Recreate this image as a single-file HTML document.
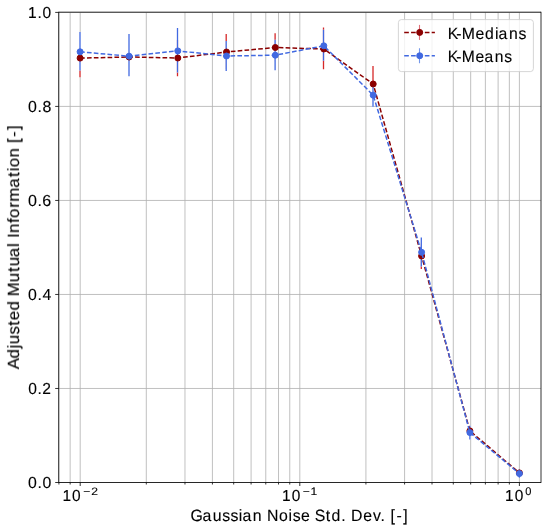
<!DOCTYPE html><html><head><meta charset="utf-8"><style>html,body{margin:0;padding:0;background:#fff;width:550px;height:528px;overflow:hidden}svg{display:block}text{will-change:transform;text-rendering:geometricPrecision;stroke:#000;stroke-width:0.12px}</style></head><body>
<svg width="550" height="528" viewBox="0 0 550 528" style="font-family:'Liberation Sans',sans-serif">
<rect width="550" height="528" fill="#fff"/>
<path d="M58.92 12.4V482.5M70.15 12.4V482.5M80.20 12.4V482.5M146.31 12.4V482.5M184.98 12.4V482.5M212.41 12.4V482.5M233.69 12.4V482.5M251.08 12.4V482.5M265.78 12.4V482.5M278.52 12.4V482.5M289.75 12.4V482.5M299.80 12.4V482.5M365.91 12.4V482.5M404.58 12.4V482.5M432.01 12.4V482.5M453.29 12.4V482.5M470.68 12.4V482.5M485.38 12.4V482.5M498.12 12.4V482.5M509.35 12.4V482.5M519.40 12.4V482.5M58.7 482.50H541.0M58.7 388.48H541.0M58.7 294.46H541.0M58.7 200.44H541.0M58.7 106.42H541.0M58.7 12.40H541.0" stroke="#b0b0b0" stroke-width="0.8" fill="none"/>
<clipPath id="ax"><rect x="58.7" y="12.4" width="482.3" height="470.1"/></clipPath>
<g clip-path="url(#ax)">
<path d="M80.0 38.60V77.30M129.0 43.00V71.00M177.5 40.00V76.30M226.2 34.00V69.00M275.1 33.20V61.50M323.5 27.40V69.20M373.0 66.10V101.50M421.3 243.50V268.90M469.9 427.00V435.00M519.4 471.00V475.00" stroke="#fff" stroke-width="2" fill="none"/><path d="M80.0 38.60V77.30M129.0 43.00V71.00M177.5 40.00V76.30M226.2 34.00V69.00M275.1 33.20V61.50M323.5 27.40V69.20M373.0 66.10V101.50M421.3 243.50V268.90M469.9 427.00V435.00M519.4 471.00V475.00" stroke="#d62728" stroke-width="1.3" fill="none"/>
<path d="M80.0 32.00V70.50M129.0 33.90V76.30M177.5 28.00V72.60M226.2 41.00V71.00M275.1 39.70V70.30M323.5 29.80V60.80M373.0 83.50V106.90M421.3 237.60V266.60M469.9 425.80V439.60M519.4 469.50V477.70" stroke="#fff" stroke-width="2" fill="none"/><path d="M80.0 32.00V70.50M129.0 33.90V76.30M177.5 28.00V72.60M226.2 41.00V71.00M275.1 39.70V70.30M323.5 29.80V60.80M373.0 83.50V106.90M421.3 237.60V266.60M469.9 425.80V439.60M519.4 469.50V477.70" stroke="#4169e1" stroke-width="1.3" fill="none"/>
<path d="M80.10 58.10 L129.10 57.00 L177.80 58.00 L226.50 52.00 L275.30 47.50 L323.80 49.00 L373.20 84.00 L421.60 256.00" stroke="#8b0000" stroke-width="1.5" stroke-dasharray="4.65 2.22" fill="none"/><path d="M421.60 256.00 L469.90 430.90 L519.40 472.90" stroke="#8b0000" stroke-width="1.5" stroke-dasharray="4.65 2.22" stroke-dashoffset="483.19" fill="none"/><circle cx="80.10" cy="58.10" r="3.0" fill="#8b0000" stroke="#8b0000" stroke-width="1.0"/><circle cx="129.10" cy="57.00" r="3.0" fill="#8b0000" stroke="#8b0000" stroke-width="1.0"/><circle cx="177.80" cy="58.00" r="3.0" fill="#8b0000" stroke="#8b0000" stroke-width="1.0"/><circle cx="226.50" cy="52.00" r="3.0" fill="#8b0000" stroke="#8b0000" stroke-width="1.0"/><circle cx="275.30" cy="47.50" r="3.0" fill="#8b0000" stroke="#8b0000" stroke-width="1.0"/><circle cx="323.80" cy="49.00" r="3.0" fill="#8b0000" stroke="#8b0000" stroke-width="1.0"/><circle cx="373.20" cy="84.00" r="3.0" fill="#8b0000" stroke="#8b0000" stroke-width="1.0"/><circle cx="421.60" cy="256.00" r="3.0" fill="#8b0000" stroke="#8b0000" stroke-width="1.0"/><circle cx="469.90" cy="430.90" r="3.0" fill="#8b0000" stroke="#8b0000" stroke-width="1.0"/><circle cx="519.40" cy="472.90" r="3.0" fill="#8b0000" stroke="#8b0000" stroke-width="1.0"/>
<path d="M80.10 51.80 L129.10 56.20 L177.80 50.90 L226.50 56.00 L275.30 55.20 L323.80 45.80 L373.20 95.20 L421.60 252.30 L469.90 432.60 L519.40 473.60" stroke="#4169e1" stroke-width="1.5" stroke-dasharray="4.65 2.22" fill="none"/><circle cx="80.10" cy="51.80" r="3.0" fill="#4169e1" stroke="#4169e1" stroke-width="1.0"/><circle cx="129.10" cy="56.20" r="3.0" fill="#4169e1" stroke="#4169e1" stroke-width="1.0"/><circle cx="177.80" cy="50.90" r="3.0" fill="#4169e1" stroke="#4169e1" stroke-width="1.0"/><circle cx="226.50" cy="56.00" r="3.0" fill="#4169e1" stroke="#4169e1" stroke-width="1.0"/><circle cx="275.30" cy="55.20" r="3.0" fill="#4169e1" stroke="#4169e1" stroke-width="1.0"/><circle cx="323.80" cy="45.80" r="3.0" fill="#4169e1" stroke="#4169e1" stroke-width="1.0"/><circle cx="373.20" cy="95.20" r="3.0" fill="#4169e1" stroke="#4169e1" stroke-width="1.0"/><circle cx="421.60" cy="252.30" r="3.0" fill="#4169e1" stroke="#4169e1" stroke-width="1.0"/><circle cx="469.90" cy="432.60" r="3.0" fill="#4169e1" stroke="#4169e1" stroke-width="1.0"/><circle cx="519.40" cy="473.60" r="3.0" fill="#4169e1" stroke="#4169e1" stroke-width="1.0"/>
</g>
<path d="M58.7 12.2H541.0M58.7 482.5H541.0M58.7 11.799999999999999V482.9M541.0 11.799999999999999V482.9" fill="none" stroke="#000" stroke-width="0.8"/>
<path d="M58.92 482.5v2.0M70.15 482.5v2.0M80.20 482.5v3.5M146.31 482.5v2.0M184.98 482.5v2.0M212.41 482.5v2.0M233.69 482.5v2.0M251.08 482.5v2.0M265.78 482.5v2.0M278.52 482.5v2.0M289.75 482.5v2.0M299.80 482.5v3.5M365.91 482.5v2.0M404.58 482.5v2.0M432.01 482.5v2.0M453.29 482.5v2.0M470.68 482.5v2.0M485.38 482.5v2.0M498.12 482.5v2.0M509.35 482.5v2.0M519.40 482.5v3.5M58.7 482.50h-3.5M58.7 388.48h-3.5M58.7 294.46h-3.5M58.7 200.44h-3.5M58.7 106.42h-3.5M58.7 12.40h-3.5" stroke="#000" stroke-width="0.8" fill="none"/>
<text transform="translate(0,488) scale(1.0567,1.0629)" x="26.60 35.45 40.14" y="0" font-size="15.0">0.0</text>
<text transform="translate(0,394) scale(1.0399,1.0629)" x="27.10 36.06 40.67" y="0" font-size="15.0">0.2</text>
<text transform="translate(0,300) scale(1.0567,1.0613)" x="26.60 35.45 40.14" y="0" font-size="15.0">0.4</text>
<text transform="translate(0,206) scale(1.0731,1.0629)" x="26.13 34.88 39.46" y="0" font-size="15.0">0.6</text>
<text transform="translate(0,112) scale(1.0618,1.0629)" x="26.45 35.27 39.93" y="0" font-size="15.0">0.8</text>
<text transform="translate(0,18) scale(1.0365,1.0613)" x="27.12 36.19 41.01" y="0" font-size="15.0">1.0</text>
<text transform="translate(0,501) scale(1.0317,1.0613)" x="60.60 69.92" y="0" font-size="15.0">10</text>
<text transform="translate(0,495.0) scale(1.1566,1.0288)" x="72.09 78.81" y="0" font-size="10.5">−2</text>
<text transform="translate(0,501) scale(1.0317,1.0613)" x="273.45 282.78" y="0" font-size="15.0">10</text>
<text transform="translate(0,495.0) scale(1.1560,1.0264)" x="261.80 268.58" y="0" font-size="10.5">−1</text>
<text transform="translate(0,501) scale(1.0317,1.0613)" x="489.56 498.88" y="0" font-size="15.0">10</text>
<text transform="translate(0,495.0) scale(1.0541,1.0629)" x="498.25" y="0" font-size="10.5">0</text>
<text transform="translate(0,521) scale(1.0183,1.0501)" x="187.14 198.90 208.95 218.34 226.30 234.46 238.09 248.21 257.34 262.29 273.97 283.36 287.40 295.56 304.55 309.15 319.90 325.51 335.04 339.64 344.79 356.65 366.27 373.75 378.35 383.44 389.33 396.07" y="0" font-size="15.55">Gaussian Noise Std. Dev. [-]</text>
<g transform="translate(18.7,247.7) rotate(-90)"><text transform="translate(0,0) scale(1.0776,1.0526)" x="-112.77 -102.73 -93.55 -89.51 -80.61 -72.44 -67.26 -58.36 -49.37 -45.03 -32.11 -22.56 -17.31 -8.84 0.74 4.47 9.03 13.59 23.02 27.63 37.01 42.64 55.65 65.58 70.89 74.71 83.72 92.59 97.26 102.82 109.24" y="0" font-size="15.55">Adjusted Mutual Information [-]</text></g>
<rect x="398.4" y="19.6" width="135.00" height="52.00" rx="3" fill="rgba(255,255,255,0.8)" stroke="rgba(204,204,204,0.8)" stroke-width="1"/>
<path d="M419.5 24.90V39.90" stroke="#e0707a" stroke-width="1.1" fill="none"/>
<path d="M404.2 32.4H434.9" stroke="#8b0000" stroke-width="1.5" stroke-dasharray="4.65 2.22" fill="none"/>
<circle cx="419.7" cy="32.4" r="3.0" fill="#8b0000" stroke="#8b0000" stroke-width="1.0"/>
<text transform="translate(0,39) scale(1.0165,1.0475)" x="440.39 448.79 454.27 467.75 477.18 486.86 490.51 500.64 509.98" y="0" font-size="15.55">K-Medians</text>
<path d="M419.5 48.25V63.25" stroke="#7598ea" stroke-width="1.1" fill="none"/>
<path d="M404.2 55.75H434.9" stroke="#4169e1" stroke-width="1.5" stroke-dasharray="4.65 2.22" fill="none"/>
<circle cx="419.7" cy="55.75" r="3.0" fill="#4169e1" stroke="#4169e1" stroke-width="1.0"/>
<text transform="translate(0,62) scale(1.0069,1.0472)" x="444.66 453.11 458.68 472.27 481.16 491.38 500.81" y="0" font-size="15.55">K-Means</text>
</svg></body></html>
